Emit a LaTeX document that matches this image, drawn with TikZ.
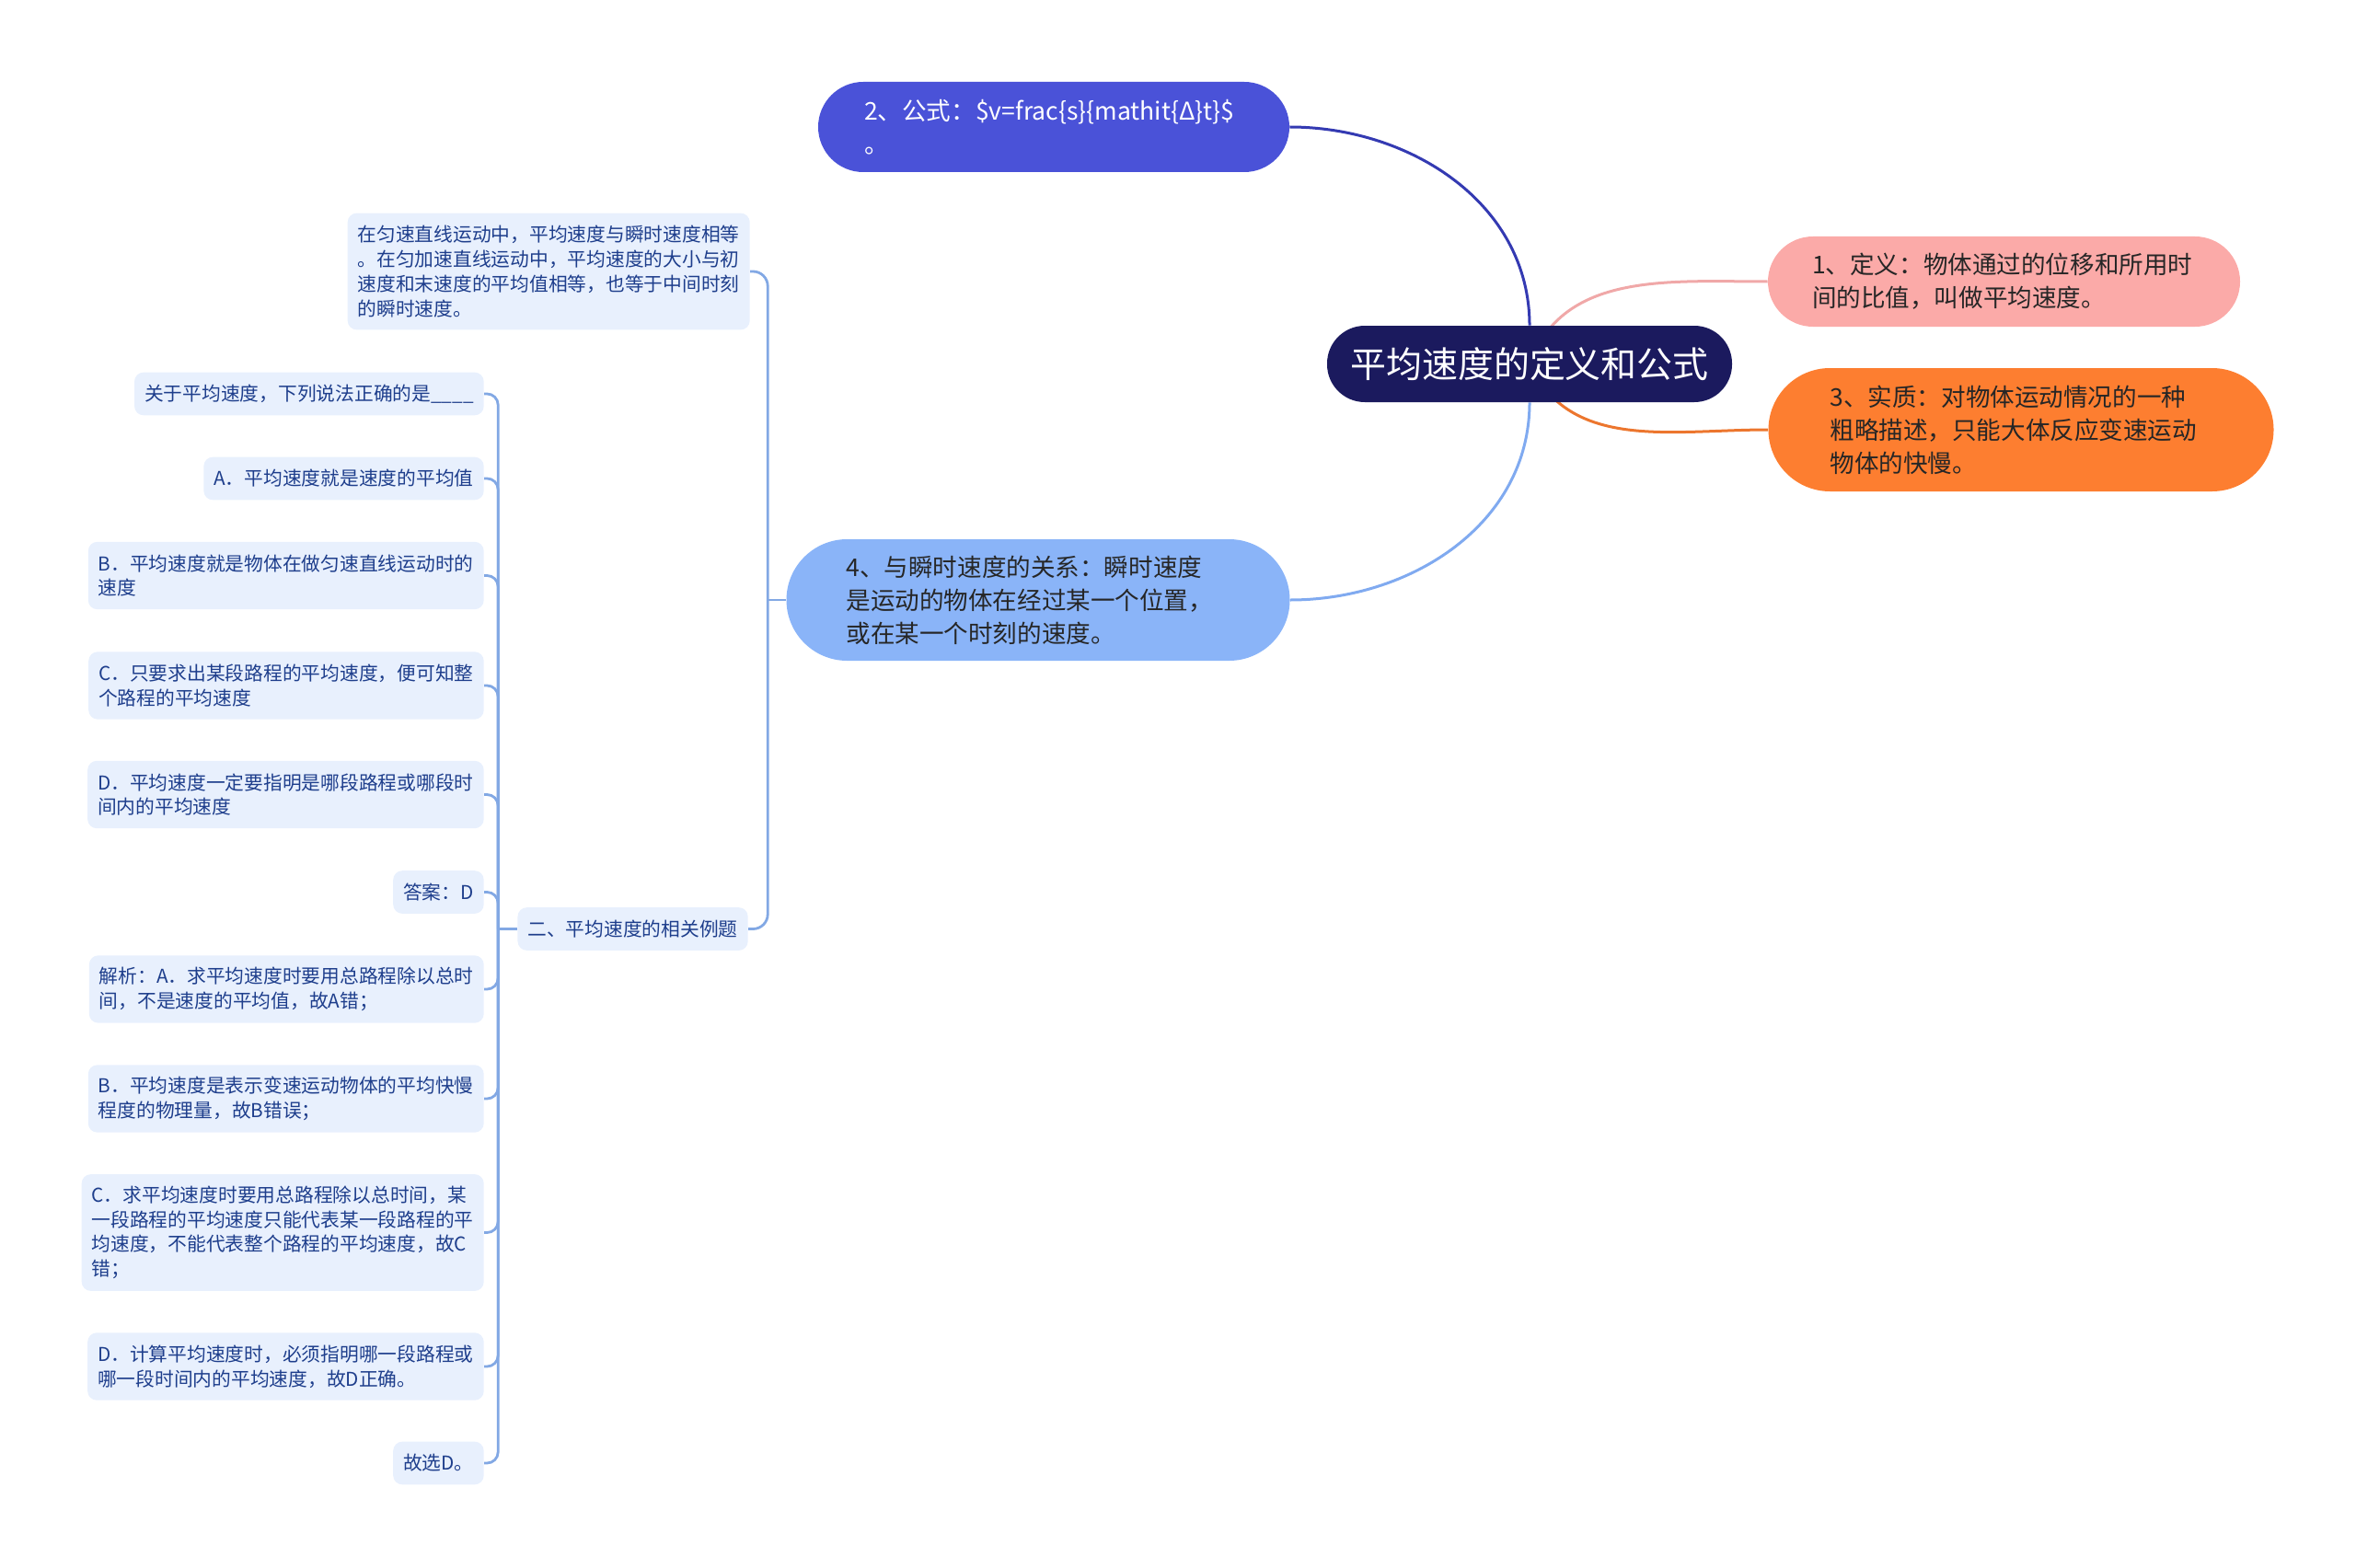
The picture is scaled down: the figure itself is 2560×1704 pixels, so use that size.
\documentclass[tikz,border=0pt]{standalone}
\usepackage{fontspec}
\setmainfont{Noto Sans CJK SC}
\usetikzlibrary{calc,backgrounds}

\definecolor{rootbg}{RGB}{27,26,94}
\definecolor{fmbg}{RGB}{74,82,216}
\definecolor{fmline}{RGB}{52,58,178}
\definecolor{relbg}{RGB}{138,180,248}
\definecolor{relline}{RGB}{128,170,240}
\definecolor{defbg}{RGB}{251,170,168}
\definecolor{defline}{RGB}{240,168,168}
\definecolor{essbg}{RGB}{253,126,48}
\definecolor{essline}{RGB}{236,118,46}
\definecolor{leafbg}{RGB}{232,240,253}
\definecolor{leaftext}{RGB}{30,62,140}
\definecolor{leafline}{RGB}{130,168,228}

\begin{document}
\begin{tikzpicture}[x=0.25mm, y=-0.25mm,
  branch/.style={align=left, inner ysep=0pt, text=black!85,
    font=\fontsize{18.9}{25.6}\selectfont},
  leaf/.style={fill=leafbg, text=leaftext, rounded corners=2.5mm, align=left,
    inner xsep=2.75mm, inner ysep=0pt, anchor=east,
    minimum height={(20+26.7*#1)*0.25mm}, font=\fontsize{14.76}{19}\selectfont},
  mainedge/.style={line width=0.75mm},
  leafedge/.style={leafline, line width=0.7mm, rounded corners=3mm}]
  % 1 单位 = 1 像素, y 轴向下
  \useasboundingbox (0,0) rectangle (2560,1704);

  % 中心主题
  \node[fill=rootbg, text=white, rounded corners=10.25mm, inner sep=0pt,
    minimum width=110mm, minimum height=20.75mm,
    font=\fontsize{27.7}{33}\selectfont] (root) at (1662,395.5) {平均速度的定义和公式};

  % 四个分支
  \node[branch, fill=fmbg, text=white, rounded corners=12.25mm, minimum height=24.5mm,
    inner xsep=12.5mm, text width=103mm] (fm) at (1145,138)
    {2、公式：\$v=frac\{s\}\{mathit\{Δ\}t\}\$\\。};
  \node[branch, fill=defbg, rounded corners=12.25mm, minimum height=24.5mm,
    inner xsep=12mm, text width=104.25mm] (def) at (2177.5,306)
    {1、定义：物体通过的位移和所用时\\间的比值，叫做平均速度。};
  \node[branch, fill=essbg, rounded corners=16.75mm, minimum height=33.5mm,
    inner xsep=16.75mm, text width=103.75mm] (ess) at (2196,467)
    {3、实质：对物体运动情况的一种\\粗略描述，只能大体反应变速运动\\物体的快慢。};
  \node[branch, fill=relbg, rounded corners=16.5mm, minimum height=33mm,
    inner xsep=16.25mm, text width=104.25mm] (rel) at (1128,652)
    {4、与瞬时速度的关系：瞬时速度\\是运动的物体在经过某一个位置，\\或在某一个时刻的速度。};

  % 分支 4 的子节点
  \node[leaf=4] (nt) at (815,295)
    {在匀速直线运动中，平均速度与瞬时速度相等\\。在匀加速直线运动中，平均速度的大小与初\\速度和末速度的平均值相等，也等于中间时刻\\的瞬时速度。};
  \node[leaf=1] (ex) at (813,1009.5) {二、平均速度的相关例题};

  % 例题
  \node[leaf=1] (q) at (526,428) {关于平均速度，下列说法正确的是\_\_\_\_};
  \node[leaf=1] (qa) at (526,520) {A．平均速度就是速度的平均值};
  \node[leaf=2] (qb) at (526,625.5) {B．平均速度就是物体在做匀速直线运动时的\\速度};
  \node[leaf=2] (qc) at (526,745) {C．只要求出某段路程的平均速度，便可知整\\个路程的平均速度};
  \node[leaf=2] (qd) at (526,863.5) {D．平均速度一定要指明是哪段路程或哪段时\\间内的平均速度};
  \node[leaf=1] (ans) at (526,969.5) {答案：D};
  \node[leaf=2] (sa) at (526,1075) {解析：A．求平均速度时要用总路程除以总时\\间，不是速度的平均值，故A错；};
  \node[leaf=2] (sb) at (526,1194) {B．平均速度是表示变速运动物体的平均快慢\\程度的物理量，故B错误；};
  \node[leaf=4] (sc) at (526,1339.5) {C．求平均速度时要用总路程除以总时间，某\\一段路程的平均速度只能代表某一段路程的平\\均速度，不能代表整个路程的平均速度，故C\\错；};
  \node[leaf=2] (sd) at (526,1485) {D．计算平均速度时，必须指明哪一段路程或\\哪一段时间内的平均速度，故D正确。};
  \node[leaf=1] (fin) at (526,1590) {故选D。};

  \begin{scope}[on background layer]
    \draw[mainedge, fmline] (root.north) to[out=90, in=0] (fm.east);
    \draw[mainedge, relline] (root.south) to[out=-90, in=0] (rel.east);
    \draw[mainedge, defline] (root.center) to[out=70, in=180] (def.west);
    \draw[mainedge, essline] (root.center) to[out=-65, in=180] (ess.west);
  \end{scope}

  % 括号连线
  \draw[leafedge, rounded corners=4mm] (nt.east) -| ($(rel.west)+(-20,0)$);
  \draw[leafedge, rounded corners=4mm] (ex.east) -| ($(rel.west)+(-20,0)$);
  \draw[leafedge] (rel.west) -- ++(-20,0);
  \foreach \n in {q,qa,qb,qc,qd,ans,sa,sb,sc,sd,fin}
    \draw[leafedge] (\n.east) -| ($(ex.west)+(-21,0)$);
  \draw[leafedge] (ex.west) -- ++(-21,0);
\end{tikzpicture}
\end{document}
